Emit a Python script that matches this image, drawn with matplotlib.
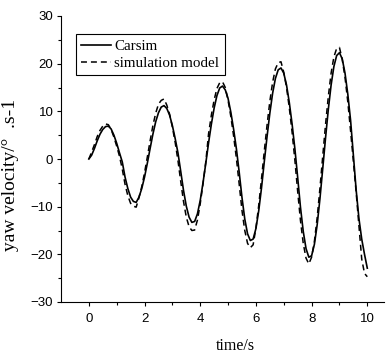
import matplotlib
matplotlib.use("Agg")
import matplotlib.pyplot as plt
import numpy as np

# time axis, 0.1 s steps
t = [round(0.1 * i, 1) for i in range(101)]

carsim = [0.0, 0.8, 2.2, 3.8, 5.2, 6.2, 6.8, 6.9, 6.3, 5.0,
          3.3, 1.3, -0.6, -3.8, -6.2, -8.0, -8.9, -9.1, -8.0, -6.2,
          -3.8, -0.9, 2.2, 5.2, 7.8, 9.7, 10.9, 11.2, 10.6, 9.2,
          7.0, 4.3, 1.3, -2.6, -6.6, -9.9, -12.2, -13.3, -13.1, -11.5,
          -8.7, -5.0, -0.9, 3.4, 7.3, 10.7, 13.3, 14.9, 15.3, 14.5,
          12.7, 9.8, 6.2, 2.1, -2.8, -8.1, -12.6, -15.7, -17.1, -16.8,
          -14.6, -10.9, -6.1, -0.6, 4.7, 9.6, 13.8, 16.9, 18.7, 19.1,
          18.0, 15.5, 11.8, 7.3, 2.1, -3.9, -10.1, -15.2, -18.8, -20.6,
          -20.3, -17.9, -13.8, -8.3, -2.0, 4.4, 10.4, 15.5, 19.4, 21.7,
          22.3, 21.0, 18.0, 13.6, 8.1, 0.8, -6.5, -12.5, -16.8, -20.0,
          -22.9]

sim_model = [0.0, 1.45, 3.0, 4.7, 6.0, 6.9, 7.35, 7.2, 6.2, 4.6,
             2.7, 0.6, -2.1, -5.3, -7.7, -9.3, -9.9, -10.1, -8.1, -5.8,
             -2.9, 0.4, 3.8, 7.0, 9.6, 11.5, 12.3, 12.6, 11.3, 9.4,
             6.7, 3.5, -0.3, -4.7, -8.9, -12.2, -14.2, -15.0, -14.9, -12.8,
             -9.4, -5.2, -0.6, 5.3, 9.2, 12.4, 14.8, 16.0, 16.2, 15.0,
             12.3, 8.9, 4.8, 0.1, -5.3, -10.8, -15.0, -17.7, -18.6, -18.0,
             -14.5, -9.8, -4.2, 1.6, 7.1, 12.1, 16.1, 18.9, 20.2, 20.4,
             18.2, 15.0, 10.7, 5.6, -0.3, -6.8, -12.9, -17.7, -20.8, -22.0,
             -20.6, -17.3, -12.3, -6.1, 0.6, 7.2, 13.1, 18.0, 21.4, 23.2,
             23.4, 20.9, 17.1, 12.0, 5.9, -0.5, -7.0, -14.0, -21.0, -24.0,
             -24.7]

plt.rcParams["font.family"] = ["Liberation Sans", "DejaVu Sans"]

fig = plt.figure(figsize=(3.86, 3.53), dpi=100)
ax = fig.add_axes([61 / 386, 51 / 353, 323 / 386, 286 / 353])

ax.plot(t, carsim, color="black", lw=1.2, label="Carsim")
ax.plot(t, sim_model, color="black", lw=1.1, dashes=(3.9, 2.6),
        label="simulation model")

ax.set_xlim(-1, 10.6)
ax.set_ylim(-30, 30)
ax.set_xticks([0, 2, 4, 6, 8, 10])
ax.set_xticks([1, 3, 5, 7, 9], minor=True)
ax.set_yticks([-30, -20, -10, 0, 10, 20, 30])
ax.set_yticks(np.arange(-25, 30, 10), minor=True)

for s in ["top", "right"]:
    ax.spines[s].set_visible(False)
for s in ["left", "bottom"]:
    ax.spines[s].set_linewidth(0.8)

ax.tick_params(which="major", direction="out", length=3, width=0.8,
               labelsize=9.5)
ax.tick_params(which="minor", direction="out", length=2, width=0.8)
ax.tick_params(axis="x", pad=5)
ax.tick_params(axis="y", pad=2.5)

ax.set_xlabel("time/s", fontsize=11.5, family="Liberation Serif")
ax.xaxis.set_label_coords(0.54, -0.125)
ax.set_ylabel("yaw velocity/\u00b0  .s-1", fontsize=14,
              family="Liberation Serif")
ax.yaxis.set_label_coords(-0.13, 0.445)

leg = ax.legend(loc="upper left", bbox_to_anchor=(15 / 323, 1 - 18 / 286),
                prop={"family": "Liberation Serif", "size": 10.8},
                frameon=True, fancybox=False, framealpha=1,
                borderpad=0.35, handlelength=2.0, handletextpad=0.2,
                labelspacing=0.25, borderaxespad=0)
leg.get_frame().set_edgecolor("black")
leg.get_frame().set_linewidth(0.8)

fig.savefig("out.png", dpi=100)
